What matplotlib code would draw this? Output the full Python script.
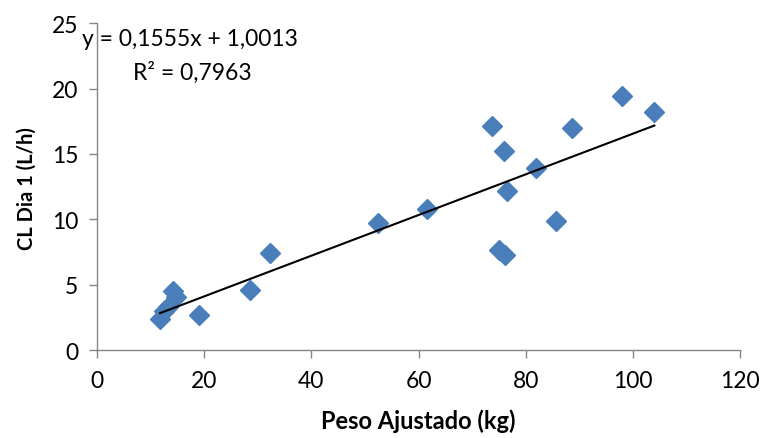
import matplotlib
matplotlib.use("Agg")
import matplotlib.pyplot as plt
import numpy as np

plt.rcParams['font.family'] = ['Lato', 'DejaVu Sans']

peso = [11.8, 12.5, 13.2, 14.2, 14.8, 19.0, 28.5, 32.3, 52.4, 61.6,
        73.7, 75.0, 75.9, 76.1, 76.5, 81.9, 85.6, 88.6, 98.0, 104.0]
cl = [2.4, 3.0, 3.3, 4.5, 4.05, 2.7, 4.6, 7.4, 9.7, 10.8,
      17.1, 7.65, 15.2, 7.3, 12.2, 13.9, 9.9, 17.0, 19.4, 18.2]
slope = 0.1555
intercept = 1.0013
r2_text = "R² = 0,7963"
eq_text = "y = 0,1555x + 1,0013"
x_ticks = [0, 20, 40, 60, 80, 100, 120]
y_ticks = [0, 5, 10, 15, 20, 25]

fig = plt.figure(figsize=(7.63, 4.39), dpi=100)
ax = fig.add_axes([0.127, 0.200, 0.843, 0.745])

ax.plot(peso, cl, linestyle='none', marker='D', markersize=10.5,
        color='#4A7EBB', markeredgecolor='#4A7EBB', zorder=2)
xl = np.array([min(peso), max(peso)])
ax.plot(xl, slope * xl + intercept, color='black', linewidth=1.5, zorder=3)

ax.set_xlim(0, 120)
ax.set_ylim(0, 25)
ax.set_xticks(x_ticks)
ax.set_yticks(y_ticks)
for s in ['top', 'right']:
    ax.spines[s].set_visible(False)
for s in ['left', 'bottom']:
    ax.spines[s].set_color('#868686')
    ax.spines[s].set_linewidth(1.0)
ax.tick_params(axis='both', direction='out', length=5.5, color='#868686',
               labelsize=16.5, width=1.0)
ax.tick_params(axis='x', pad=9)
ax.tick_params(axis='y', pad=8)
ax.set_xlabel('Peso Ajustado (kg)', fontsize=17, fontweight='bold')
ax.set_ylabel('CL Dia 1 (L/h)', fontsize=14.5, fontweight='bold')
ax.xaxis.set_label_coords(0.5, -0.178)
ax.yaxis.set_label_coords(-0.094, 0.498)

fig.text(82 / 763, 1 - 39 / 439, eq_text, fontsize=16.5, va='center', ha='left')
fig.text(133 / 763, 1 - 73 / 439, r2_text, fontsize=16.5, va='center', ha='left')

fig.savefig('out.png', dpi=100)
